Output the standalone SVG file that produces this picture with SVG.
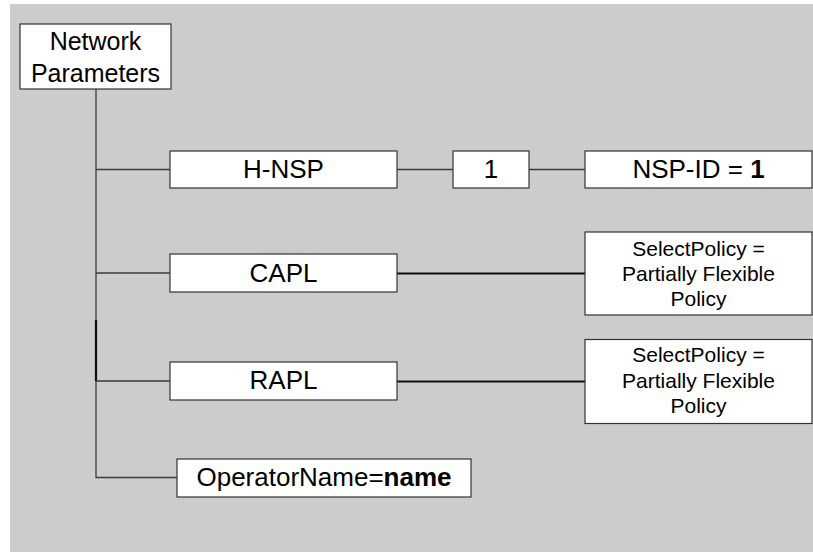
<svg xmlns="http://www.w3.org/2000/svg" width="813" height="552" viewBox="0 0 813 552">
<style>
.box{fill:#ffffff;stroke:#333333;stroke-width:1.2}
.t{font-family:"Liberation Sans",Arial,sans-serif;font-size:26px;fill:#000;text-anchor:middle}
.s{font-family:"Liberation Sans",Arial,sans-serif;font-size:21px;fill:#000;text-anchor:middle}
.b{font-weight:bold}
.ln{stroke:#3a3a3a;stroke-width:1.3;fill:none}
.lnk{stroke:#111111;stroke-width:2.2;fill:none}
</style>
<rect x="0" y="0" width="813" height="552" fill="#ffffff"/>
<rect x="10" y="4" width="803" height="548" fill="#cccccc"/>
<g id="connectors">
<path class="ln" d="M96 89 V477.5 H177"/>
<path class="lnk" d="M96 320 V381"/>
<path class="ln" d="M96 169.5 H170"/>
<path class="ln" d="M96 273 H170"/>
<path class="ln" d="M96 381 H170"/>
<path class="ln" d="M397 169.5 H453"/>
<path class="ln" d="M529 169.5 H585"/>
<path class="lnk" d="M397 273.5 H585"/>
<path class="lnk" d="M397 381.5 H585"/>
</g>
<g id="network-parameters">
<rect class="box" x="20" y="24" width="151" height="65"/>
<text class="t" x="95.5" y="50" style="font-size:25px">Network</text>
<text class="t" x="95.5" y="81.5" style="font-size:25px">Parameters</text>
</g>
<g id="h-nsp">
<rect class="box" x="170" y="151" width="227" height="37"/>
<text class="t" x="283.5" y="178">H-NSP</text>
</g>
<g id="one">
<rect class="box" x="453" y="151" width="76" height="37"/>
<text class="t" x="491" y="178">1</text>
</g>
<g id="nsp-id">
<rect class="box" x="585" y="151" width="227" height="37"/>
<text class="t" x="698.5" y="178">NSP-ID = <tspan class="b">1</tspan></text>
</g>
<g id="capl">
<rect class="box" x="170" y="254" width="227" height="38"/>
<text class="t" x="283.5" y="282">CAPL</text>
</g>
<g id="capl-policy">
<rect class="box" x="585" y="232" width="227" height="83"/>
<text class="s" x="698.5" y="255.5">SelectPolicy =</text>
<text class="s" x="698.5" y="281">Partially Flexible</text>
<text class="s" x="698.5" y="306.3">Policy</text>
</g>
<g id="rapl">
<rect class="box" x="170" y="362" width="227" height="38"/>
<text class="t" x="283.5" y="388.5">RAPL</text>
</g>
<g id="rapl-policy">
<rect class="box" x="585" y="339.5" width="227" height="84"/>
<text class="s" x="698.5" y="362">SelectPolicy =</text>
<text class="s" x="698.5" y="387.5">Partially Flexible</text>
<text class="s" x="698.5" y="412.8">Policy</text>
</g>
<g id="operator-name">
<rect class="box" x="177" y="459" width="294" height="38"/>
<text class="t" x="324" y="485.5">OperatorName=<tspan class="b">name</tspan></text>
</g>
</svg>
